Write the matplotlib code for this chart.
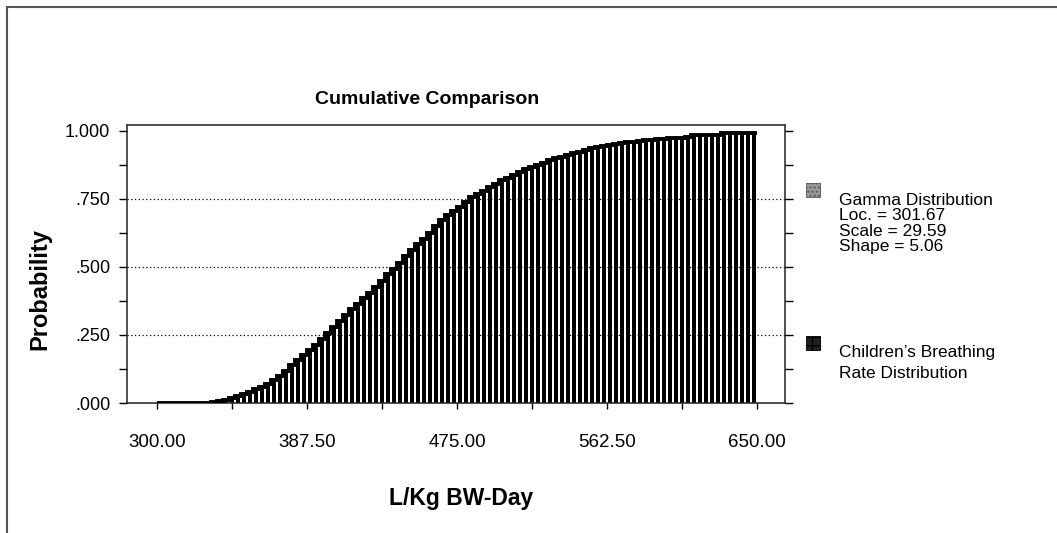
import numpy as np
import matplotlib
matplotlib.use("Agg")
import matplotlib.pyplot as plt
from matplotlib.patches import Rectangle
from matplotlib.lines import Line2D
from matplotlib.ticker import FixedLocator

plt.rcParams['font.family'] = ['Liberation Sans', 'DejaVu Sans']

# ---- data ----
title = "Cumulative Comparison"
x_label = "L/Kg BW-Day"
y_label = "Probability"
bin_start = 300.0
bin_width = 3.5
cum_prob = [
    0, 0, 0, 0, 0, 0, 0, 0, 0, 0.003,
    0.008, 0.012, 0.018, 0.026, 0.034, 0.041, 0.050, 0.058, 0.070, 0.085,
    0.100, 0.119, 0.138, 0.158, 0.178, 0.196, 0.214, 0.235, 0.256, 0.281,
    0.303, 0.323, 0.344, 0.364, 0.385, 0.406, 0.427, 0.450, 0.474, 0.494,
    0.515, 0.540, 0.562, 0.583, 0.603, 0.626, 0.650, 0.672, 0.690, 0.705,
    0.720, 0.738, 0.756, 0.768, 0.781, 0.793, 0.806, 0.818, 0.828, 0.839,
    0.850, 0.860, 0.867, 0.875, 0.883, 0.892, 0.899, 0.905, 0.911, 0.918,
    0.924, 0.931, 0.937, 0.941, 0.945, 0.950, 0.952, 0.957, 0.958, 0.960,
    0.962, 0.967, 0.968, 0.970, 0.972, 0.975, 0.975, 0.976, 0.977, 0.985,
    0.985, 0.985, 0.985, 0.986, 0.994, 0.994, 0.994, 0.994, 0.994, 0.994,
]
x_ticks = [300.0, 343.75, 387.5, 431.25, 475.0, 518.75, 562.5, 606.25, 650.0]
x_tick_labels = ["300.00", "", "387.50", "", "475.00", "", "562.50", "", "650.00"]
y_ticks = [0, 0.125, 0.25, 0.375, 0.5, 0.625, 0.75, 0.875, 1.0]
y_tick_labels = [".000", "", ".250", "", ".500", "", ".750", "", "1.000"]
gamma_legend = ["Gamma Distribution", "Loc. = 301.67", "Scale = 29.59", "Shape = 5.06"]
data_legend = ["Children\u2019s Breathing", "Rate Distribution"]

# ---- figure ----
W, H = 1057, 533
fig = plt.figure(figsize=(W / 100, H / 100), dpi=100)
fig.patch.set_facecolor('white')

def fx(px):
    return px / W

def fy(py):
    return 1 - py / H

ax = fig.add_axes([fx(127), fy(403), fx(785) - fx(127), fy(125) - fy(403)])

vals = np.array(cum_prob)
n = len(vals)
edges = bin_start + bin_width * np.arange(n + 1)
centers = edges[:-1] + bin_width / 2

ax.bar(centers, vals, width=bin_width * 0.62, color='black', edgecolor='none', zorder=2)
ax.stairs(vals, edges, baseline=None, color='black', linewidth=2.8, zorder=3)

ax.set_xlim(282.5, 666.3)
ax.set_ylim(0, 1.022)

for g in [0.25, 0.5, 0.75]:
    ax.axhline(g, color='black', linestyle=(0, (1, 2)), linewidth=0.9, zorder=1)

ax.xaxis.set_major_locator(FixedLocator(x_ticks))
ax.set_xticklabels(x_tick_labels)
ax.yaxis.set_major_locator(FixedLocator(y_ticks))
ax.set_yticklabels(y_tick_labels)
ax.tick_params(axis='x', direction='out', length=4, width=1, pad=18, labelsize=13.5)
ax.tick_params(axis='y', direction='out', length=6, width=1, pad=6, labelsize=13,
               right=True)
for sp in ax.spines.values():
    sp.set_color('#222222')
    sp.set_linewidth(1.1)

# titles
fig.text(fx(427), fy(104), title, ha='center', va='baseline', fontsize=14, fontweight='bold')
fig.text(fx(461), fy(505), x_label, ha='center', va='baseline', fontsize=16.5, fontweight='bold')
fig.text(fx(40), fy(289), y_label, ha='center', va='center', rotation=90,
         fontsize=17, fontweight='bold')

# legend
r1 = Rectangle((fx(806), fy(197)), fx(14), fy(183) - fy(197), transform=fig.transFigure,
               facecolor='#9a9a9a', edgecolor='#555555', hatch='....', linewidth=0.6)
r2 = Rectangle((fx(806), fy(350)), fx(14), fy(336) - fy(350), transform=fig.transFigure,
               facecolor='#202020', edgecolor='#000000', hatch='++', linewidth=0.6)
fig.patches.extend([r1, r2])
for txt, py in zip(gamma_legend, [205, 220.5, 236, 251.5]):
    fig.text(fx(839), fy(py), txt, ha='left', va='baseline', fontsize=12.5)
for txt, py in zip(data_legend, [357, 378]):
    fig.text(fx(839), fy(py), txt, ha='left', va='baseline', fontsize=12.5)

# outer frame (left and top edges)
fig.lines.append(Line2D([fx(7), fx(7)], [0, fy(7)], transform=fig.transFigure,
                        color='#555555', linewidth=1.5))
fig.lines.append(Line2D([fx(7), 1], [fy(7), fy(7)], transform=fig.transFigure,
                        color='#555555', linewidth=1.5))

fig.savefig("out.png", dpi=100, facecolor='white')
